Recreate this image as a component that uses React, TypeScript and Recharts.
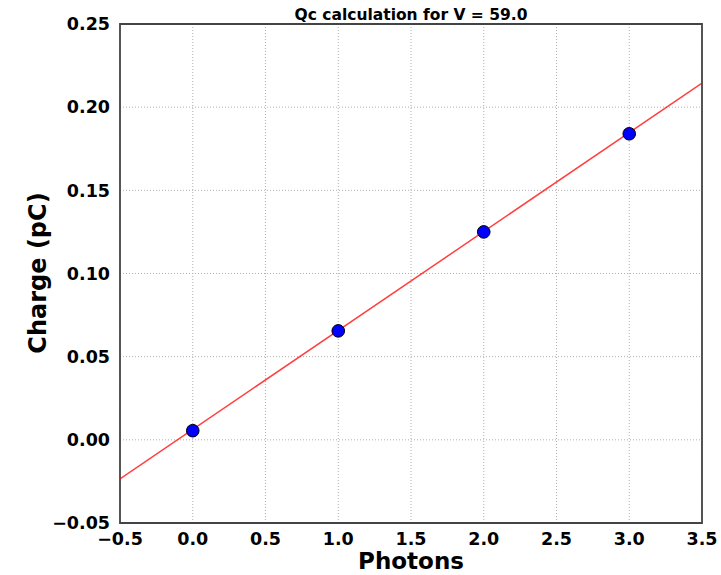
import {
  ComposedChart,
  Scatter,
  Line,
  XAxis,
  YAxis,
  CartesianGrid,
  ReferenceArea,
} from "recharts";

const photons = [0, 1, 2, 3];
const charge = [0.0055, 0.0655, 0.125, 0.184];

const fitX = [-0.5, 3.5];
const fitY = [-0.0235, 0.2145];

const xTicks = [-0.5, 0, 0.5, 1, 1.5, 2, 2.5, 3, 3.5];
const yTicks = [-0.05, 0, 0.05, 0.1, 0.15, 0.2, 0.25];

const points = photons.map((p, i) => ({ x: p, y: charge[i] }));
const fitLine = fitX.map((p, i) => ({ x: p, y: fitY[i] }));

const fmtNum = (v: number) => (v < 0 ? "\u2212" + Math.abs(v).toFixed(1) : v.toFixed(1));
const fmtY = (v: number) => (v < 0 ? "\u2212" + Math.abs(v).toFixed(2) : v.toFixed(2));

const font = "'DejaVu Sans', sans-serif";

export default function App() {
  return (
    <div style={{ position: "absolute", left: 0, top: 0, background: "#fff" }}>
      <ComposedChart
        width={721}
        height={575}
        margin={{ top: 24, right: 19, bottom: 0, left: 0 }}
        style={{ fontFamily: font }}
      >
        <text x={411} y={20} textAnchor="middle" fontSize={15.5} fontWeight="bold" fill="#000" fontFamily={font}>
          Qc calculation for V = 59.0
        </text>
        <text x={411} y={569} textAnchor="middle" fontSize={23} fontWeight="bold" fill="#000" fontFamily={font}>
          Photons
        </text>
        <text
          x={0}
          y={0}
          transform="translate(46, 273) rotate(-90)"
          textAnchor="middle"
          fontSize={24}
          fontWeight="bold"
          fill="#000"
          fontFamily={font}
        >
          Charge (pC)
        </text>
        <CartesianGrid stroke="#b0b0b0" strokeDasharray="1 2" />
        <XAxis
          dataKey="x"
          type="number"
          domain={[-0.5, 3.5]}
          ticks={xTicks}
          tickFormatter={fmtNum}
          height={52}
          tickLine={false}
          axisLine={false}
          tick={{ fill: "#000", fontSize: 17.5, fontWeight: "bold" }}
          tickMargin={4}
          allowDataOverflow
        />
        <YAxis
          dataKey="y"
          type="number"
          domain={[-0.05, 0.25]}
          ticks={yTicks}
          tickFormatter={fmtY}
          width={120}
          tickLine={false}
          axisLine={false}
          tick={{ fill: "#000", fontSize: 17.5, fontWeight: "bold" }}
          tickMargin={4}
          allowDataOverflow
        />
        <Line
          data={fitLine}
          dataKey="y"
          type="linear"
          stroke="#ff0000"
          strokeOpacity={0.75}
          strokeWidth={1.5}
          dot={false}
          activeDot={false}
          isAnimationActive={false}
        />
        <Scatter
          data={points}
          dataKey="y"
          fill="#0000ff"
          shape={(props: any) => (
            <circle cx={props.cx} cy={props.cy} r={6.3} fill="#0000ff" stroke="#000" strokeWidth={1} />
          )}
          isAnimationActive={false}
        />
        <ReferenceArea
          x1={-0.5}
          x2={3.5}
          y1={-0.05}
          y2={0.25}
          fill="none"
          fillOpacity={0}
          stroke="#444"
          strokeWidth={1.8}
        />
      </ComposedChart>
    </div>
  );
}
